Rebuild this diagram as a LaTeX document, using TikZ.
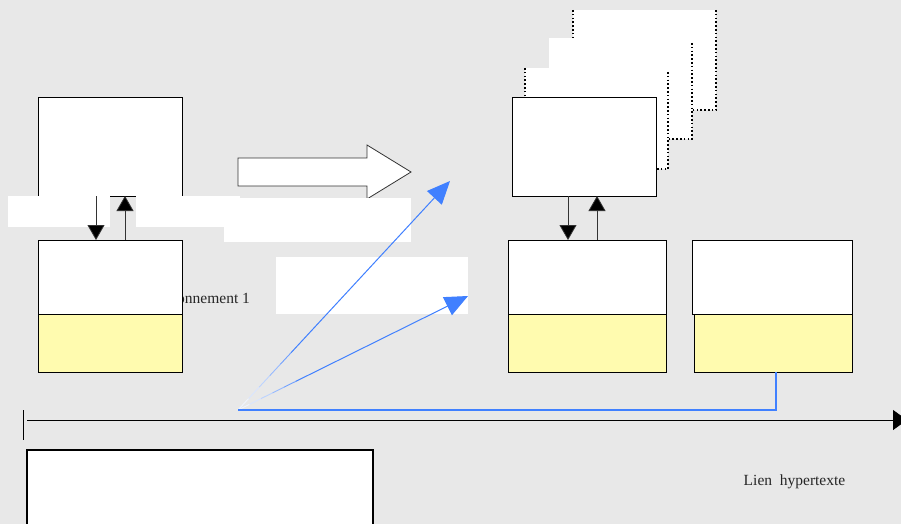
\documentclass[tikz,border=0pt]{standalone}
\usepackage{fontspec}
\setmainfont{Liberation Serif}
\usetikzlibrary{arrows.meta,calc}
\definecolor{bg}{HTML}{E8E8E8}
\definecolor{pale}{HTML}{FFFBAF}
\definecolor{link}{HTML}{4080FF}
\begin{document}
\begin{tikzpicture}[x=1pt,y=-1pt,
  box/.style={draw=black, fill=white, line width=0.9pt, inner sep=0pt, outer sep=0pt, anchor=north west},
  ybox/.style={box, fill=pale},
  blank/.style={fill=white, draw=none, inner sep=0pt, outer sep=0pt, anchor=north west},
  page/.style={blank},
  dots/.style={draw=black, line width=1.6pt, dash pattern=on 1.6pt off 2.2pt},
  flow/.style={draw=black!80, line width=0.8pt, -{Triangle[length=15pt,width=17pt,fill=black]}},
  linkarrow/.style={link, line width=1pt, -{Triangle[length=23pt,width=20pt]}},
  label/.style={font=\fontsize{15.5}{17}\selectfont, inner sep=0pt, text=black!85}]

% background
\fill[bg] (0,0) rectangle (901,524);
\useasboundingbox (0,0) rectangle (901,524);

% left column
\node[box, minimum width=144pt, minimum height=99pt] (A) at (38,97) {};
\node[label, anchor=base west] (env) at (177,303) {onnement 1};
\node[box, minimum width=144pt, minimum height=74pt] (B) at (38,240) {};
\node[ybox, minimum width=144pt, minimum height=58pt] (By) at (38,314) {};

% hollow transition arrow
\draw[fill=white, draw=black!80, line width=0.8pt]
  (238,158) -- (367,158) -- (367,145) -- (411,172) -- (367,199) -- (367,186) -- (238,186) -- cycle;

% blank label areas
\node[blank, minimum width=102pt, minimum height=31pt] (r1) at (8,196) {};
\node[blank, minimum width=104pt, minimum height=31pt] (r2) at (136,196) {};
\node[blank, minimum width=187pt, minimum height=44pt] (r3) at (224,198) {};
\node[blank, minimum width=192pt, minimum height=57pt] (r4) at (276,257) {};

% arrows between A and B
\draw[flow] ([xshift=58pt]A.south west) -- ([xshift=58pt]B.north west);
\draw[flow] ([xshift=87pt]B.north west) -- ([xshift=87pt]A.south west);

% stacked pages
\node[page, minimum width=143pt, minimum height=100pt] (p3) at (573,10) {};
\draw[dots] (p3.north west) -- (p3.south west);
\draw[dots] (p3.north east) -- (p3.south east) -- (p3.south west);
\node[page, minimum width=143pt, minimum height=101pt] (p2) at (549,38) {};
\draw[dots] ([yshift=-5pt]p2.north east) -- (p2.south east) -- (p2.south west);
\node[page, minimum width=143pt, minimum height=101pt] (p1) at (525,68) {};
\draw[dots] (p1.north west) -- (p1.south west);
\draw[dots] ([yshift=-4pt]p1.north east) -- (p1.south east) -- (p1.south west);

% right column
\node[box, minimum width=144pt, minimum height=99pt] (C) at (512,97) {};
\node[box, minimum width=158pt, minimum height=74pt] (D) at (508,240) {};
\node[ybox, minimum width=158pt, minimum height=58pt] (Dy) at (508,314) {};
\node[box, minimum width=160pt, minimum height=74pt] (E) at (692,240) {};
\node[ybox, minimum width=158pt, minimum height=58pt] (Ey) at (694,314) {};

\draw[flow] ([xshift=56pt]C.south west) -- ([xshift=60pt]D.north west);
\draw[flow] ([xshift=89pt]D.north west) -- ([xshift=85pt]C.south west);

% hypertext links
\coordinate (o) at (238,410);
\coordinate (t1) at (450,181);
\coordinate (t2) at (468,296);
\foreach \tip in {t1,t2}{
  \foreach \i/\c in {0/8,1/20,2/35,3/55,4/75}{
    \draw[link!\c, line width=0.9pt] ($(o)!\i*0.05!(\tip)$) -- ($(o)!\i*0.05+0.05!(\tip)$);
  }
  \draw[linkarrow] ($(o)!0.25!(\tip)$) -- (\tip);
}
\draw[link, line width=2pt] (o) -| ([xshift=82pt]Ey.south west);

% time line
\coordinate (tl) at (27,420);
\coordinate (tr) at (907,420);
\draw[line width=0.9pt, -{Triangle[length=14pt,width=20pt]}] (tl) -- (tr);
\draw[line width=0.9pt] (23,410) coordinate (tk1) -- (23,440) coordinate (tk2);

% lower box
\node[box, line width=2pt, minimum width=346pt, minimum height=90pt] (F) at (27,450) {};

\node[label] (lien) at (794.5,481.5) {Lien~~hypertexte};
\end{tikzpicture}
\end{document}
